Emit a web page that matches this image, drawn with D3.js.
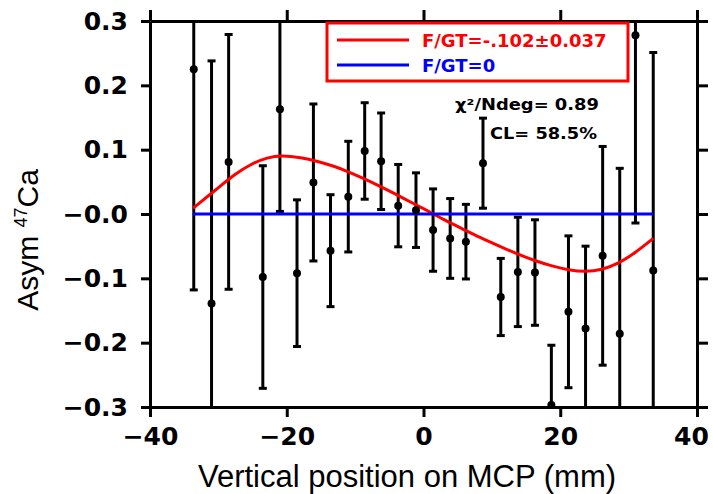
<!DOCTYPE html>
<html>
<head>
<meta charset="utf-8">
<script src="https://cdn.jsdelivr.net/npm/d3@7"></script>
<style>
  body { margin: 0; background: #fff; }
  svg { display: block; }
</style>
</head>
<body>
<svg id="vis" width="713" height="494"></svg>
<script>
// measured points: position (mm), asymmetry, error
const posX = [-33.6, -31.0, -28.5, -23.5, -21.0, -18.5, -16.1, -13.6, -11.0, -8.6, -6.2, -3.7, -1.1, 1.4,
  3.9, 6.2, 8.7, 11.3, 13.8, 16.3, 18.7, 21.2, 23.7, 26.2, 28.7, 31.0, 33.6];
const asym = [0.225, -0.139, 0.081, -0.098, 0.163, -0.092, 0.049, -0.057, 0.027, 0.098, 0.082, 0.013, 0.006, -0.025,
  -0.038, -0.043, 0.079, -0.129, -0.090, -0.091, -0.297, -0.152, -0.178, -0.065, -0.186, 0.278, -0.088];
const asymErr = [0.343, 0.377, 0.198, 0.173, 0.159, 0.114, 0.122, 0.087, 0.086, 0.075, 0.075, 0.064, 0.058, 0.064,
  0.062, 0.058, 0.070, 0.060, 0.085, 0.082, 0.093, 0.118, 0.128, 0.170, 0.257, 0.292, 0.339];

// fit curve F/GT=-.102
const fitX = [-33.7, -30.1, -27.6, -25.2, -22.8, -20.8, -17.9, -15.5, -13.0, -11.3, -8.9, -6.5, -4.1, -1.6,
  0.8, 3.2, 5.7, 8.1, 11.5, 13.9, 16.4, 18.8, 21.2, 23.6, 26.1, 28.5, 30.9, 33.6];
const fitY = [0.009, 0.040, 0.062, 0.078, 0.088, 0.091, 0.088, 0.082, 0.074, 0.067, 0.056, 0.044, 0.031, 0.017,
  0.004, -0.010, -0.023, -0.036, -0.052, -0.063, -0.073, -0.081, -0.087, -0.090, -0.087, -0.077, -0.061, -0.038];

// F/GT=0 line
const zeroX = [-33.7, 33.6];
const zeroY = [0, 0];

const xTicks = [-40, -20, 0, 20, 40];
const xTickLabels = ['\u221240', '\u221220', '0', '20', '40'];
const yTicks = [0.3, 0.2, 0.1, 0, -0.1, -0.2, -0.3];
const yTickLabels = ['0.3', '0.2', '0.1', '\u22120.0', '\u22120.1', '\u22120.2', '\u22120.3'];

const legendLabels = ['F/GT=-.102\u00b10.037', 'F/GT=0'];
const legendColors = ['#ff0000', '#0000ff'];
const statLines = ['\u03c7\u00b2/Ndeg= 0.89', 'CL= 58.5%'];

let svg = d3.select('#vis');
let plotL = 150, plotR = 697, plotT = 21, plotB = 407;

let x = d3.scaleLinear().domain([-40, 40]).range([plotL, plotR]);
let y = d3.scaleLinear().domain([-0.3, 0.3]).range([plotB, plotT]);

svg.append('defs').append('clipPath').attr('id', 'plot-clip')
  .append('rect')
  .attr('x', plotL).attr('y', plotT)
  .attr('width', plotR - plotL).attr('height', plotB - plotT);

let tickFont = 'DejaVu Sans, sans-serif';

function styleAxis(g) {
  g.select('.domain').attr('stroke', '#000').attr('stroke-width', 3);
  g.selectAll('.tick line').attr('stroke', '#000').attr('stroke-width', 3);
  g.selectAll('.tick text')
    .attr('fill', '#000')
    .style('font-family', tickFont)
    .style('font-weight', 'bold')
    .style('font-size', '25px');
}

let xFmt = (d) => xTickLabels[xTicks.indexOf(d)];
let yFmt = (d) => yTickLabels[yTicks.indexOf(d)];

let xAxisG = svg.append('g')
  .attr('transform', `translate(0,${plotB})`)
  .call(d3.axisBottom(x).tickValues(xTicks).tickFormat(xFmt).tickSize(10).tickSizeOuter(0).tickPadding(10))
  .call(styleAxis);

// keep the last label inside the window
xAxisG.selectAll('.tick text').filter((d) => d === 40).attr('dx', -6);

svg.append('g')
  .attr('transform', `translate(0,${plotT})`)
  .call(d3.axisTop(x).tickValues(xTicks).tickFormat('').tickSize(11).tickSizeOuter(0))
  .call(styleAxis);

svg.append('g')
  .attr('transform', `translate(${plotL},0)`)
  .call(d3.axisLeft(y).tickValues(yTicks).tickFormat(yFmt).tickSize(9).tickSizeOuter(0).tickPadding(13))
  .call(styleAxis);

svg.append('g')
  .attr('transform', `translate(${plotR},0)`)
  .call(d3.axisRight(y).tickValues(yTicks).tickFormat('').tickSize(11).tickSizeOuter(0))
  .call(styleAxis);

/*
  data
*/
let plot = svg.append('g').attr('clip-path', 'url(#plot-clip)');

let points = posX.map((d, i) => ({ x: d, y: asym[i], e: asymErr[i] }));
let capW = 4;

let bars = plot.append('g').attr('class', 'errorbars')
  .attr('stroke', '#000').attr('stroke-width', 3);

bars.selectAll('.eb')
  .data(points)
  .enter().append('line')
  .attr('x1', (d) => x(d.x)).attr('x2', (d) => x(d.x))
  .attr('y1', (d) => y(d.y - d.e)).attr('y2', (d) => y(d.y + d.e));

bars.selectAll('.cap-top')
  .data(points)
  .enter().append('line')
  .attr('x1', (d) => x(d.x) - capW).attr('x2', (d) => x(d.x) + capW)
  .attr('y1', (d) => y(d.y + d.e)).attr('y2', (d) => y(d.y + d.e));

bars.selectAll('.cap-bottom')
  .data(points)
  .enter().append('line')
  .attr('x1', (d) => x(d.x) - capW).attr('x2', (d) => x(d.x) + capW)
  .attr('y1', (d) => y(d.y - d.e)).attr('y2', (d) => y(d.y - d.e));

let line = d3.line()
  .x((d) => x(d[0]))
  .y((d) => y(d[1]))
  .curve(d3.curveBasis);

plot.append('path')
  .datum(fitX.map((d, i) => [d, fitY[i]]))
  .attr('fill', 'none')
  .attr('stroke', legendColors[0])
  .attr('stroke-width', 3)
  .attr('d', line);

plot.append('path')
  .datum(zeroX.map((d, i) => [d, zeroY[i]]))
  .attr('fill', 'none')
  .attr('stroke', legendColors[1])
  .attr('stroke-width', 3)
  .attr('d', line);

plot.append('g').selectAll('circle')
  .data(points)
  .enter().append('circle')
  .attr('cx', (d) => x(d.x))
  .attr('cy', (d) => y(d.y))
  .attr('r', 4)
  .attr('fill', '#000');

/*
  legend
*/
let legend = svg.append('g');
legend.append('rect')
  .attr('x', 327).attr('y', 23)
  .attr('width', 301).attr('height', 58)
  .attr('fill', '#fff')
  .attr('stroke', '#ff0000')
  .attr('stroke-width', 3);

legendLabels.forEach((t, i) => {
  let ly = 40 + i * 25;
  legend.append('line')
    .attr('x1', 337).attr('x2', 409)
    .attr('y1', ly).attr('y2', ly)
    .attr('stroke', legendColors[i])
    .attr('stroke-width', 3);
  legend.append('text')
    .attr('x', 422).attr('y', ly + 7)
    .attr('fill', legendColors[i])
    .style('font-family', tickFont)
    .style('font-weight', 'bold')
    .style('font-size', '18px')
    .text(t);
});

let stats = svg.append('g');
stats.append('text')
  .attr('x', 455).attr('y', 110)
  .attr('textLength', 144).attr('lengthAdjust', 'spacingAndGlyphs')
  .style('font-family', tickFont).style('font-weight', 'bold').style('font-size', '15px')
  .text(statLines[0]);
stats.append('text')
  .attr('x', 490).attr('y', 139)
  .attr('textLength', 107).attr('lengthAdjust', 'spacingAndGlyphs')
  .style('font-family', tickFont).style('font-weight', 'bold').style('font-size', '15px')
  .text(statLines[1]);

/*
  axis titles
*/
svg.append('text')
  .attr('x', 407).attr('y', 487)
  .style('text-anchor', 'middle')
  .style('font-family', 'Liberation Sans, Arial, sans-serif')
  .style('font-size', '31px')
  .text('Vertical position on MCP (mm)');

let yt = svg.append('text')
  .attr('transform', 'translate(38,240) rotate(-90)')
  .style('text-anchor', 'middle')
  .style('font-family', 'Liberation Sans, Arial, sans-serif')
  .style('font-size', '30px');
yt.append('tspan').text('Asym ');
yt.append('tspan').attr('dy', -11).style('font-size', '18px').text('47');
yt.append('tspan').attr('dy', 11).text('Ca');
</script>
</body>
</html>
